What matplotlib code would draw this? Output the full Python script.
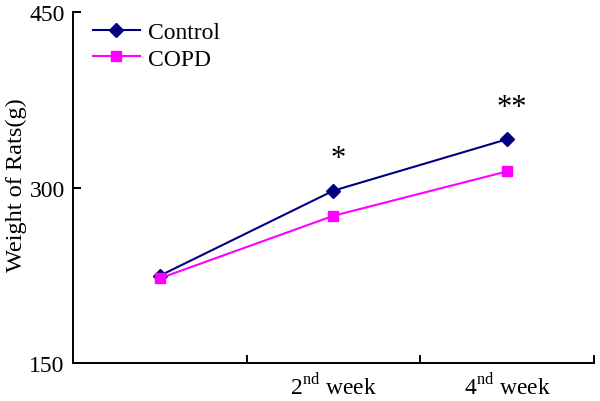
import matplotlib
matplotlib.use("Agg")
import matplotlib.pyplot as plt

plt.rcParams['font.family'] = ['Liberation Serif', 'DejaVu Serif']
plt.rcParams['mathtext.fontset'] = 'custom'
plt.rcParams['mathtext.rm'] = 'Liberation Serif'

# data
weeks = ['', r'2$^{\mathrm{nd}}$ week', r'4$^{\mathrm{nd}}$ week']
control = [224.7, 297.5, 341.5]
copd = [222.5, 276.0, 314.0]
sig_marks = ['', '*', '**']
sig_y = [None, 324.7, 369.0]

fig = plt.figure(figsize=(6.0, 4.02), dpi=100)
ax = fig.add_axes([0.1217, 0.0945, 0.868, 0.872])

x = range(len(weeks))
ax.plot(x, control, color='#000080', lw=1.5, marker='D', ms=7.5,
        label='Control', zorder=3)
ax.plot(x, copd, color='#FF00FF', lw=1.5, marker='s', ms=7,
        label='COPD', zorder=3)

for i, s in enumerate(sig_marks):
    if s:
        ax.text(i + 0.03, sig_y[i], s, ha='center', va='center', fontsize=22)

ax.set_xlim(-0.5, 2.5)
ax.set_ylim(150, 450)
ax.set_yticks([150, 300, 450])
ax.tick_params(axis='y', direction='in', length=6, width=1.4,
               labelsize=17, pad=6)

# category boundaries get the tick marks, labels sit in the middle
ax.set_xticks([0.5, 1.5, 2.5])
ax.set_xticklabels([])
ax.tick_params(axis='x', which='major', direction='in', length=6, width=1.4)
ax.set_xticks(list(x), minor=True)
ax.set_xticklabels(weeks, minor=True)
ax.tick_params(axis='x', which='minor', length=0, labelsize=17, pad=7)

ax.set_ylabel('Weight of Rats(g)', fontsize=17.5)
ax.yaxis.set_label_coords(-0.088, 0.51)

for side in ['top', 'right']:
    ax.spines[side].set_visible(False)
for side in ['left', 'bottom']:
    ax.spines[side].set_linewidth(1.4)

ax.legend(loc='upper left', bbox_to_anchor=(0.02, 1.0), frameon=False,
          fontsize=17, handlelength=2.0, handletextpad=0.35,
          labelspacing=0.2, borderaxespad=0)

fig.savefig('out.png', dpi=100)
